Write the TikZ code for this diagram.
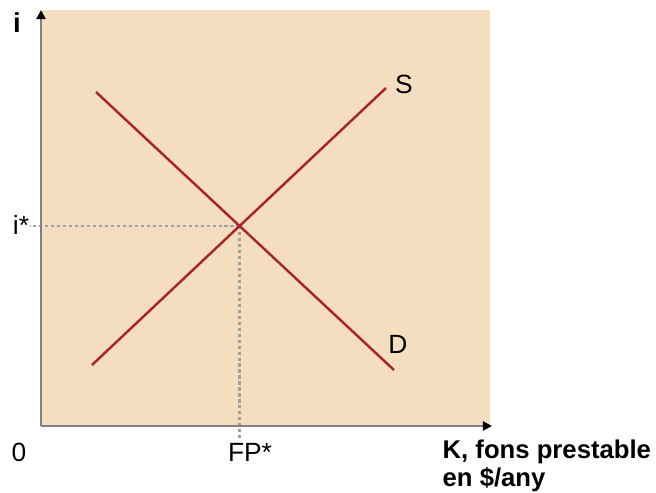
\documentclass[tikz,border=0pt]{standalone}
\usepackage{fontspec}
\setmainfont{Liberation Sans}
\usetikzlibrary{arrows.meta}
\definecolor{fonsbg}{RGB}{245,222,191}
\definecolor{vermell}{RGB}{168,38,42}

\begin{document}
\begin{tikzpicture}[
    x=0.01cm, y=-0.01cm,
    every node/.style={inner sep=0pt, font=\fontsize{7.5}{9}\selectfont},
    eix/.style={draw=gray, line width=0.65pt, -{Triangle[length=0.9mm, width=0.9mm, color=black]}},
    recta/.style={draw=vermell, line width=0.7pt},
    guia/.style={draw=gray!75, line width=0.7pt, dash pattern=on 0.9pt off 0.8pt},
    negreta/.style={font=\fontsize{7.3}{8}\selectfont\bfseries, align=left},
  ]
    \useasboundingbox (0,0) rectangle (656,493);
    \fill[fonsbg] (42,10) rectangle (490,426);

    \coordinate (O) at (41,426);
    \coordinate (ymax) at (41,10);
    \coordinate (xmax) at (492,426);
    \coordinate (s0) at (92,365);
    \coordinate (s1) at (386,88);
    \coordinate (d0) at (96,92);
    \coordinate (d1) at (394,370);
    \coordinate (E) at (intersection of s0--s1 and d0--d1);
    \coordinate (iesq) at (30,0);
    \coordinate (fpbaix) at (0,440);

    \draw[guia] (E) -- (E -| iesq);
    \draw[guia] (E) -- (E |- fpbaix);
    \draw[eix] (O) -- (ymax);
    \draw[eix] (O) -- (xmax);
    \draw[recta] (s0) -- (s1);
    \draw[recta] (d0) -- (d1);

    \node[font=\fontsize{7.8}{9}\selectfont\bfseries] (ieix) at (17,23) {i};
    \node (iest) at (21,225) {i*};
    \node (zero) at (19,452) {0};
    \node (fpest) at (250,452) {FP*};
    \node (lS) at (404,84) {S};
    \node (lD) at (398,344) {D};
    \node[negreta, anchor=north west] (keix) at (442,439) {K, fons prestable\\en \$/any};
\end{tikzpicture}
\end{document}
